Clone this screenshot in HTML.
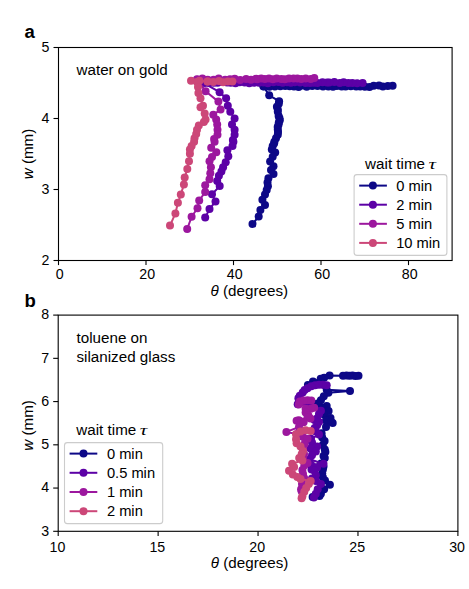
<!DOCTYPE html>
<html><head><meta charset="utf-8"><title>chart</title>
<style>
html,body{margin:0;padding:0;background:#fff;}
svg{display:block;}
text{font-family:"Liberation Sans",sans-serif;font-size:15.2px;fill:#000;}
</style></head><body>
<svg width="469" height="589" viewBox="0 0 469 589">
<rect width="469" height="589" fill="#fff"/>

<g>
<path d="M392.6,85.8 L387.8,86.0 L382.9,86.4 L379.0,85.4 L373.7,85.8 L369.5,87.0 L364.9,86.7 L360.2,86.4 L356.2,86.4 L350.8,86.2 L345.6,86.5 L341.7,86.6 L336.9,85.9 L333.0,86.8 L328.4,86.6 L323.0,86.5 L317.5,86.0 L312.2,86.1 L306.7,86.8 L302.8,85.6 L298.6,86.9 L294.0,86.4 L289.7,86.2 L285.2,86.0 L280.3,86.3 L274.9,86.5 L269.4,86.8 L263.8,86.5 L263.3,86.2 L269.2,95.3 L279.1,101.2 L278.8,103.8 L276.9,106.7 L277.8,109.5 L277.8,111.8 L278.6,116.0 L279.5,118.2 L279.8,120.3 L278.8,122.4 L278.6,124.6 L277.7,126.9 L277.8,129.7 L278.0,132.1 L277.8,134.8 L276.0,138.3 L274.4,141.7 L274.1,143.6 L272.7,146.0 L271.8,149.4 L275.2,152.6 L272.7,156.8 L270.1,161.6 L273.5,166.2 L271.0,170.1 L273.5,173.9 L268.4,178.2 L267.5,182.4 L267.9,186.2 L266.7,190.1 L265.0,194.4 L262.4,199.8 L265.0,204.9 L260.4,210.1 L258.7,216.6 L252.5,223.9" fill="none" stroke="#0d0887" stroke-width="2.0" stroke-linejoin="round"/><g fill="#0d0887"><circle cx="392.6" cy="85.8" r="4.0"/><circle cx="387.8" cy="86.0" r="4.0"/><circle cx="382.9" cy="86.4" r="4.0"/><circle cx="379.0" cy="85.4" r="4.0"/><circle cx="373.7" cy="85.8" r="4.0"/><circle cx="369.5" cy="87.0" r="4.0"/><circle cx="364.9" cy="86.7" r="4.0"/><circle cx="360.2" cy="86.4" r="4.0"/><circle cx="356.2" cy="86.4" r="4.0"/><circle cx="350.8" cy="86.2" r="4.0"/><circle cx="345.6" cy="86.5" r="4.0"/><circle cx="341.7" cy="86.6" r="4.0"/><circle cx="336.9" cy="85.9" r="4.0"/><circle cx="333.0" cy="86.8" r="4.0"/><circle cx="328.4" cy="86.6" r="4.0"/><circle cx="323.0" cy="86.5" r="4.0"/><circle cx="317.5" cy="86.0" r="4.0"/><circle cx="312.2" cy="86.1" r="4.0"/><circle cx="306.7" cy="86.8" r="4.0"/><circle cx="302.8" cy="85.6" r="4.0"/><circle cx="298.6" cy="86.9" r="4.0"/><circle cx="294.0" cy="86.4" r="4.0"/><circle cx="289.7" cy="86.2" r="4.0"/><circle cx="285.2" cy="86.0" r="4.0"/><circle cx="280.3" cy="86.3" r="4.0"/><circle cx="274.9" cy="86.5" r="4.0"/><circle cx="269.4" cy="86.8" r="4.0"/><circle cx="263.8" cy="86.5" r="4.0"/><circle cx="263.3" cy="86.2" r="4.0"/><circle cx="269.2" cy="95.3" r="4.0"/><circle cx="279.1" cy="101.2" r="4.0"/><circle cx="278.8" cy="103.8" r="4.0"/><circle cx="276.9" cy="106.7" r="4.0"/><circle cx="277.8" cy="109.5" r="4.0"/><circle cx="277.8" cy="111.8" r="4.0"/><circle cx="278.6" cy="116.0" r="4.0"/><circle cx="279.5" cy="118.2" r="4.0"/><circle cx="279.8" cy="120.3" r="4.0"/><circle cx="278.8" cy="122.4" r="4.0"/><circle cx="278.6" cy="124.6" r="4.0"/><circle cx="277.7" cy="126.9" r="4.0"/><circle cx="277.8" cy="129.7" r="4.0"/><circle cx="278.0" cy="132.1" r="4.0"/><circle cx="277.8" cy="134.8" r="4.0"/><circle cx="276.0" cy="138.3" r="4.0"/><circle cx="274.4" cy="141.7" r="4.0"/><circle cx="274.1" cy="143.6" r="4.0"/><circle cx="272.7" cy="146.0" r="4.0"/><circle cx="271.8" cy="149.4" r="4.0"/><circle cx="275.2" cy="152.6" r="4.0"/><circle cx="272.7" cy="156.8" r="4.0"/><circle cx="270.1" cy="161.6" r="4.0"/><circle cx="273.5" cy="166.2" r="4.0"/><circle cx="271.0" cy="170.1" r="4.0"/><circle cx="273.5" cy="173.9" r="4.0"/><circle cx="268.4" cy="178.2" r="4.0"/><circle cx="267.5" cy="182.4" r="4.0"/><circle cx="267.9" cy="186.2" r="4.0"/><circle cx="266.7" cy="190.1" r="4.0"/><circle cx="265.0" cy="194.4" r="4.0"/><circle cx="262.4" cy="199.8" r="4.0"/><circle cx="265.0" cy="204.9" r="4.0"/><circle cx="260.4" cy="210.1" r="4.0"/><circle cx="258.7" cy="216.6" r="4.0"/><circle cx="252.5" cy="223.9" r="4.0"/></g>
<path d="M362.6,83.1 L357.1,83.2 L352.4,82.9 L348.3,83.1 L343.6,82.3 L339.8,83.1 L334.3,82.0 L329.2,82.5 L327.0,82.6 L322.5,82.3 L317.4,83.1 L313.6,82.8 L309.9,82.9 L305.6,83.1 L300.1,82.6 L294.6,82.3 L290.8,82.7 L287.0,82.2 L282.6,82.8 L278.6,82.0 L273.4,82.3 L267.9,83.2 L263.5,82.5 L258.9,82.8 L254.1,82.7 L249.3,83.2 L244.7,82.5 L239.7,82.2 L235.5,83.3 L230.8,82.7 L227.1,82.5 L222.4,81.9 L217.6,82.8 L213.8,82.8 L209.2,82.9 L204.9,82.9 L203.0,82.6 L219.6,92.2 L226.1,98.2 L227.8,105.8 L230.3,111.8 L234.6,118.6 L232.0,124.6 L234.6,129.7 L234.6,134.8 L232.9,140.0 L233.4,141.7 L232.5,146.0 L227.4,150.2 L228.3,156.2 L225.7,162.2 L223.1,167.3 L221.4,171.6 L218.9,175.8 L217.2,181.0 L219.7,186.1 L212.0,194.3 L215.5,201.4 L209.5,209.1 L205.2,217.6" fill="none" stroke="#5c01a6" stroke-width="2.0" stroke-linejoin="round"/><g fill="#5c01a6"><circle cx="362.6" cy="83.1" r="4.0"/><circle cx="357.1" cy="83.2" r="4.0"/><circle cx="352.4" cy="82.9" r="4.0"/><circle cx="348.3" cy="83.1" r="4.0"/><circle cx="343.6" cy="82.3" r="4.0"/><circle cx="339.8" cy="83.1" r="4.0"/><circle cx="334.3" cy="82.0" r="4.0"/><circle cx="329.2" cy="82.5" r="4.0"/><circle cx="327.0" cy="82.6" r="4.0"/><circle cx="322.5" cy="82.3" r="4.0"/><circle cx="317.4" cy="83.1" r="4.0"/><circle cx="313.6" cy="82.8" r="4.0"/><circle cx="309.9" cy="82.9" r="4.0"/><circle cx="305.6" cy="83.1" r="4.0"/><circle cx="300.1" cy="82.6" r="4.0"/><circle cx="294.6" cy="82.3" r="4.0"/><circle cx="290.8" cy="82.7" r="4.0"/><circle cx="287.0" cy="82.2" r="4.0"/><circle cx="282.6" cy="82.8" r="4.0"/><circle cx="278.6" cy="82.0" r="4.0"/><circle cx="273.4" cy="82.3" r="4.0"/><circle cx="267.9" cy="83.2" r="4.0"/><circle cx="263.5" cy="82.5" r="4.0"/><circle cx="258.9" cy="82.8" r="4.0"/><circle cx="254.1" cy="82.7" r="4.0"/><circle cx="249.3" cy="83.2" r="4.0"/><circle cx="244.7" cy="82.5" r="4.0"/><circle cx="239.7" cy="82.2" r="4.0"/><circle cx="235.5" cy="83.3" r="4.0"/><circle cx="230.8" cy="82.7" r="4.0"/><circle cx="227.1" cy="82.5" r="4.0"/><circle cx="222.4" cy="81.9" r="4.0"/><circle cx="217.6" cy="82.8" r="4.0"/><circle cx="213.8" cy="82.8" r="4.0"/><circle cx="209.2" cy="82.9" r="4.0"/><circle cx="204.9" cy="82.9" r="4.0"/><circle cx="203.0" cy="82.6" r="4.0"/><circle cx="219.6" cy="92.2" r="4.0"/><circle cx="226.1" cy="98.2" r="4.0"/><circle cx="227.8" cy="105.8" r="4.0"/><circle cx="230.3" cy="111.8" r="4.0"/><circle cx="234.6" cy="118.6" r="4.0"/><circle cx="232.0" cy="124.6" r="4.0"/><circle cx="234.6" cy="129.7" r="4.0"/><circle cx="234.6" cy="134.8" r="4.0"/><circle cx="232.9" cy="140.0" r="4.0"/><circle cx="233.4" cy="141.7" r="4.0"/><circle cx="232.5" cy="146.0" r="4.0"/><circle cx="227.4" cy="150.2" r="4.0"/><circle cx="228.3" cy="156.2" r="4.0"/><circle cx="225.7" cy="162.2" r="4.0"/><circle cx="223.1" cy="167.3" r="4.0"/><circle cx="221.4" cy="171.6" r="4.0"/><circle cx="218.9" cy="175.8" r="4.0"/><circle cx="217.2" cy="181.0" r="4.0"/><circle cx="219.7" cy="186.1" r="4.0"/><circle cx="212.0" cy="194.3" r="4.0"/><circle cx="215.5" cy="201.4" r="4.0"/><circle cx="209.5" cy="209.1" r="4.0"/><circle cx="205.2" cy="217.6" r="4.0"/></g>
<path d="M314.3,78.1 L310.8,79.0 L305.7,78.5 L301.4,78.9 L297.4,78.6 L293.5,78.6 L289.0,78.5 L284.9,79.2 L281.4,78.9 L276.7,78.5 L272.9,79.2 L269.0,78.4 L264.9,79.1 L261.2,78.6 L257.2,79.3 L256.0,78.8 L251.0,79.8 L246.1,78.9 L240.2,79.9 L234.7,78.7 L230.0,79.3 L225.1,79.8 L218.7,78.6 L213.6,79.8 L207.7,79.8 L202.4,78.5 L197.3,79.7 L197.0,79.2 L205.6,91.3 L218.4,101.6 L220.6,109.6 L213.3,114.7 L216.2,119.5 L217.2,124.6 L217.5,129.7 L217.5,134.8 L214.1,139.1 L214.6,141.7 L211.2,147.7 L216.3,152.3 L212.0,157.1 L209.5,161.3 L210.9,167.3 L210.3,173.3 L209.5,179.2 L205.2,185.2 L205.2,192.0 L199.2,200.6 L197.5,208.3 L191.6,216.8 L187.2,229.0" fill="none" stroke="#9c179e" stroke-width="2.0" stroke-linejoin="round"/><g fill="#9c179e"><circle cx="314.3" cy="78.1" r="4.0"/><circle cx="310.8" cy="79.0" r="4.0"/><circle cx="305.7" cy="78.5" r="4.0"/><circle cx="301.4" cy="78.9" r="4.0"/><circle cx="297.4" cy="78.6" r="4.0"/><circle cx="293.5" cy="78.6" r="4.0"/><circle cx="289.0" cy="78.5" r="4.0"/><circle cx="284.9" cy="79.2" r="4.0"/><circle cx="281.4" cy="78.9" r="4.0"/><circle cx="276.7" cy="78.5" r="4.0"/><circle cx="272.9" cy="79.2" r="4.0"/><circle cx="269.0" cy="78.4" r="4.0"/><circle cx="264.9" cy="79.1" r="4.0"/><circle cx="261.2" cy="78.6" r="4.0"/><circle cx="257.2" cy="79.3" r="4.0"/><circle cx="256.0" cy="78.8" r="4.0"/><circle cx="251.0" cy="79.8" r="4.0"/><circle cx="246.1" cy="78.9" r="4.0"/><circle cx="240.2" cy="79.9" r="4.0"/><circle cx="234.7" cy="78.7" r="4.0"/><circle cx="230.0" cy="79.3" r="4.0"/><circle cx="225.1" cy="79.8" r="4.0"/><circle cx="218.7" cy="78.6" r="4.0"/><circle cx="213.6" cy="79.8" r="4.0"/><circle cx="207.7" cy="79.8" r="4.0"/><circle cx="202.4" cy="78.5" r="4.0"/><circle cx="197.3" cy="79.7" r="4.0"/><circle cx="197.0" cy="79.2" r="4.0"/><circle cx="205.6" cy="91.3" r="4.0"/><circle cx="218.4" cy="101.6" r="4.0"/><circle cx="220.6" cy="109.6" r="4.0"/><circle cx="213.3" cy="114.7" r="4.0"/><circle cx="216.2" cy="119.5" r="4.0"/><circle cx="217.2" cy="124.6" r="4.0"/><circle cx="217.5" cy="129.7" r="4.0"/><circle cx="217.5" cy="134.8" r="4.0"/><circle cx="214.1" cy="139.1" r="4.0"/><circle cx="214.6" cy="141.7" r="4.0"/><circle cx="211.2" cy="147.7" r="4.0"/><circle cx="216.3" cy="152.3" r="4.0"/><circle cx="212.0" cy="157.1" r="4.0"/><circle cx="209.5" cy="161.3" r="4.0"/><circle cx="210.9" cy="167.3" r="4.0"/><circle cx="210.3" cy="173.3" r="4.0"/><circle cx="209.5" cy="179.2" r="4.0"/><circle cx="205.2" cy="185.2" r="4.0"/><circle cx="205.2" cy="192.0" r="4.0"/><circle cx="199.2" cy="200.6" r="4.0"/><circle cx="197.5" cy="208.3" r="4.0"/><circle cx="191.6" cy="216.8" r="4.0"/><circle cx="187.2" cy="229.0" r="4.0"/></g>
<path d="M232.4,81.4 L227.8,81.5 L223.1,82.2 L219.0,80.9 L213.3,82.1 L207.6,81.5 L207.5,81.6 L199.5,80.8 L191.0,80.8 L197.0,82.0 L198.0,87.0 L198.4,93.0 L200.5,98.2 L203.0,105.8 L200.5,107.2 L204.7,113.5 L205.6,119.5 L203.9,122.0 L198.8,125.5 L197.0,129.7 L196.2,134.0 L194.5,138.3 L194.1,141.7 L191.6,146.0 L189.9,149.4 L189.9,153.7 L189.0,161.3 L187.3,169.0 L184.7,177.5 L183.9,184.4 L180.8,194.6 L177.9,202.8 L175.4,213.4 L170.0,225.6" fill="none" stroke="#cc4778" stroke-width="2.0" stroke-linejoin="round"/><g fill="#cc4778"><circle cx="232.4" cy="81.4" r="4.0"/><circle cx="227.8" cy="81.5" r="4.0"/><circle cx="223.1" cy="82.2" r="4.0"/><circle cx="219.0" cy="80.9" r="4.0"/><circle cx="213.3" cy="82.1" r="4.0"/><circle cx="207.6" cy="81.5" r="4.0"/><circle cx="207.5" cy="81.6" r="4.0"/><circle cx="199.5" cy="80.8" r="4.0"/><circle cx="191.0" cy="80.8" r="4.0"/><circle cx="197.0" cy="82.0" r="4.0"/><circle cx="198.0" cy="87.0" r="4.0"/><circle cx="198.4" cy="93.0" r="4.0"/><circle cx="200.5" cy="98.2" r="4.0"/><circle cx="203.0" cy="105.8" r="4.0"/><circle cx="200.5" cy="107.2" r="4.0"/><circle cx="204.7" cy="113.5" r="4.0"/><circle cx="205.6" cy="119.5" r="4.0"/><circle cx="203.9" cy="122.0" r="4.0"/><circle cx="198.8" cy="125.5" r="4.0"/><circle cx="197.0" cy="129.7" r="4.0"/><circle cx="196.2" cy="134.0" r="4.0"/><circle cx="194.5" cy="138.3" r="4.0"/><circle cx="194.1" cy="141.7" r="4.0"/><circle cx="191.6" cy="146.0" r="4.0"/><circle cx="189.9" cy="149.4" r="4.0"/><circle cx="189.9" cy="153.7" r="4.0"/><circle cx="189.0" cy="161.3" r="4.0"/><circle cx="187.3" cy="169.0" r="4.0"/><circle cx="184.7" cy="177.5" r="4.0"/><circle cx="183.9" cy="184.4" r="4.0"/><circle cx="180.8" cy="194.6" r="4.0"/><circle cx="177.9" cy="202.8" r="4.0"/><circle cx="175.4" cy="213.4" r="4.0"/><circle cx="170.0" cy="225.6" r="4.0"/></g>
</g>
<rect x="58.5" y="47.5" width="393.6" height="213.0" fill="none" stroke="#000" stroke-width="1.1"/><line x1="58.5" y1="260.5" x2="58.5" y2="265.1" stroke="#000" stroke-width="1.1"/><text transform="translate(59.7,278.8) scale(1,1.07)" text-anchor="middle" style="font-size:14.2px;">0</text><line x1="146.0" y1="260.5" x2="146.0" y2="265.1" stroke="#000" stroke-width="1.1"/><text transform="translate(147.2,278.8) scale(1,1.07)" text-anchor="middle" style="font-size:14.2px;">20</text><line x1="233.5" y1="260.5" x2="233.5" y2="265.1" stroke="#000" stroke-width="1.1"/><text transform="translate(234.7,278.8) scale(1,1.07)" text-anchor="middle" style="font-size:14.2px;">40</text><line x1="321.0" y1="260.5" x2="321.0" y2="265.1" stroke="#000" stroke-width="1.1"/><text transform="translate(322.2,278.8) scale(1,1.07)" text-anchor="middle" style="font-size:14.2px;">60</text><line x1="408.5" y1="260.5" x2="408.5" y2="265.1" stroke="#000" stroke-width="1.1"/><text transform="translate(409.7,278.8) scale(1,1.07)" text-anchor="middle" style="font-size:14.2px;">80</text><line x1="53.5" y1="260.5" x2="58.5" y2="260.5" stroke="#000" stroke-width="1.1"/><text transform="translate(49.5,264.8) scale(1,1.07)" text-anchor="end" style="font-size:14.2px;">2</text><line x1="53.5" y1="189.5" x2="58.5" y2="189.5" stroke="#000" stroke-width="1.1"/><text transform="translate(49.5,193.8) scale(1,1.07)" text-anchor="end" style="font-size:14.2px;">3</text><line x1="53.5" y1="118.5" x2="58.5" y2="118.5" stroke="#000" stroke-width="1.1"/><text transform="translate(49.5,122.8) scale(1,1.07)" text-anchor="end" style="font-size:14.2px;">4</text><line x1="53.5" y1="47.5" x2="58.5" y2="47.5" stroke="#000" stroke-width="1.1"/><text transform="translate(49.5,51.8) scale(1,1.07)" text-anchor="end" style="font-size:14.2px;">5</text>
<text transform="translate(76.5,74.9) scale(1,1.02)" text-anchor="start" style="">water on gold</text>
<rect x="354.1" y="174.6" width="92.79999999999995" height="80.80000000000001" rx="2.8" fill="#fff" fill-opacity="0.8" stroke="#ccc" stroke-width="1.1"/><text transform="translate(365.1,168.5) scale(1,1.02)" text-anchor="start" style="">wait time</text><text transform="translate(428.5,168.5) scale(1.35,1)" style="font-family:'Liberation Serif',serif;font-style:italic;font-size:15.5px">τ</text><line x1="360.2" y1="185.6" x2="385.9" y2="185.6" stroke="#0d0887" stroke-width="2.0" stroke-linecap="square"/><circle cx="372.9" cy="185.6" r="4.0" fill="#0d0887"/><text transform="translate(396.2,190.6) scale(1,1.02)" text-anchor="start" style="font-size:14.7px;">0 min</text><line x1="360.2" y1="204.7" x2="385.9" y2="204.7" stroke="#5c01a6" stroke-width="2.0" stroke-linecap="square"/><circle cx="372.9" cy="204.7" r="4.0" fill="#5c01a6"/><text transform="translate(396.2,209.7) scale(1,1.02)" text-anchor="start" style="font-size:14.7px;">2 min</text><line x1="360.2" y1="223.8" x2="385.9" y2="223.8" stroke="#9c179e" stroke-width="2.0" stroke-linecap="square"/><circle cx="372.9" cy="223.8" r="4.0" fill="#9c179e"/><text transform="translate(396.2,228.8) scale(1,1.02)" text-anchor="start" style="font-size:14.7px;">5 min</text><line x1="360.2" y1="242.9" x2="385.9" y2="242.9" stroke="#cc4778" stroke-width="2.0" stroke-linecap="square"/><circle cx="372.9" cy="242.9" r="4.0" fill="#cc4778"/><text transform="translate(396.2,247.9) scale(1,1.02)" text-anchor="start" style="font-size:14.7px;">10 min</text>
<text transform="translate(210.6,296) scale(1,1.02)" text-anchor="start" style=""><tspan font-style="italic">θ</tspan> (degrees)</text>
<text transform="translate(32.7,179.3) rotate(-90) scale(1,1.02)" text-anchor="start" style=""><tspan font-style="italic">w</tspan> (mm)</text>
<text transform="translate(24.5,38.3) scale(1,1.02)" text-anchor="start" style="font-size:18.5px;font-weight:bold;">a</text>
<g>
<path d="M358.5,375.8 L355.5,375.9 L352.5,375.6 L349.5,375.8 L346.5,375.6 L343.0,375.7 L329.6,375.6 L324.1,377.8 L320.7,378.7 L313.0,381.5 L307.9,385.1 L316.0,384.0 L326.7,389.7 L350.0,391.0 L328.4,392.8 L323.8,396.3 L320.9,400.2 L317.6,403.5 L326.7,406.0 L322.0,408.5 L328.6,411.0 L324.0,414.5 L330.5,417.9 L326.0,420.5 L332.7,423.0 L331.2,422.0 L326.0,427.1 L321.6,433.3 L322.2,437.4 L324.6,441.0 L322.8,445.1 L324.8,449.5 L325.4,452.1 L323.5,455.9 L324.8,457.9 L321.2,463.5 L323.5,466.5 L322.9,469.5 L322.2,473.2 L322.8,477.1 L325.0,480.5 L329.9,484.8 L324.1,489.2 L320.9,493.7 L319.5,495.9 L312.6,496.9" fill="none" stroke="#0d0887" stroke-width="2.0" stroke-linejoin="round"/><g fill="#0d0887"><circle cx="358.5" cy="375.8" r="4.0"/><circle cx="355.5" cy="375.9" r="4.0"/><circle cx="352.5" cy="375.6" r="4.0"/><circle cx="349.5" cy="375.8" r="4.0"/><circle cx="346.5" cy="375.6" r="4.0"/><circle cx="343.0" cy="375.7" r="4.0"/><circle cx="329.6" cy="375.6" r="4.0"/><circle cx="324.1" cy="377.8" r="4.0"/><circle cx="320.7" cy="378.7" r="4.0"/><circle cx="313.0" cy="381.5" r="4.0"/><circle cx="307.9" cy="385.1" r="4.0"/><circle cx="316.0" cy="384.0" r="4.0"/><circle cx="326.7" cy="389.7" r="4.0"/><circle cx="350.0" cy="391.0" r="4.0"/><circle cx="328.4" cy="392.8" r="4.0"/><circle cx="323.8" cy="396.3" r="4.0"/><circle cx="320.9" cy="400.2" r="4.0"/><circle cx="317.6" cy="403.5" r="4.0"/><circle cx="326.7" cy="406.0" r="4.0"/><circle cx="322.0" cy="408.5" r="4.0"/><circle cx="328.6" cy="411.0" r="4.0"/><circle cx="324.0" cy="414.5" r="4.0"/><circle cx="330.5" cy="417.9" r="4.0"/><circle cx="326.0" cy="420.5" r="4.0"/><circle cx="332.7" cy="423.0" r="4.0"/><circle cx="331.2" cy="422.0" r="4.0"/><circle cx="326.0" cy="427.1" r="4.0"/><circle cx="321.6" cy="433.3" r="4.0"/><circle cx="322.2" cy="437.4" r="4.0"/><circle cx="324.6" cy="441.0" r="4.0"/><circle cx="322.8" cy="445.1" r="4.0"/><circle cx="324.8" cy="449.5" r="4.0"/><circle cx="325.4" cy="452.1" r="4.0"/><circle cx="323.5" cy="455.9" r="4.0"/><circle cx="324.8" cy="457.9" r="4.0"/><circle cx="321.2" cy="463.5" r="4.0"/><circle cx="323.5" cy="466.5" r="4.0"/><circle cx="322.9" cy="469.5" r="4.0"/><circle cx="322.2" cy="473.2" r="4.0"/><circle cx="322.8" cy="477.1" r="4.0"/><circle cx="325.0" cy="480.5" r="4.0"/><circle cx="329.9" cy="484.8" r="4.0"/><circle cx="324.1" cy="489.2" r="4.0"/><circle cx="320.9" cy="493.7" r="4.0"/><circle cx="319.5" cy="495.9" r="4.0"/><circle cx="312.6" cy="496.9" r="4.0"/></g>
<path d="M326.7,385.3 L322.8,384.8 L319.0,384.8 L315.1,385.3 L311.3,386.2 L307.5,388.2 L304.6,390.0 L302.7,392.5 L299.8,395.8 L298.4,398.2 L297.7,404.2 L310.0,405.0 L320.9,410.7 L319.0,414.0 L317.0,418.4 L314.5,420.1 L319.0,422.0 L317.1,425.2 L314.7,428.0 L315.8,431.6 L319.0,434.5 L311.0,438.8 L312.0,442.6 L317.1,446.4 L310.5,448.5 L315.8,451.5 L312.0,455.3 L309.4,459.2 L323.5,463.7 L311.0,464.5 L317.1,467.5 L311.5,469.5 L314.5,470.7 L315.8,475.2 L312.0,478.4 L316.0,481.0 L320.9,484.1 L317.7,489.2 L315.8,493.7 L313.9,497.5" fill="none" stroke="#5c01a6" stroke-width="2.0" stroke-linejoin="round"/><g fill="#5c01a6"><circle cx="326.7" cy="385.3" r="4.0"/><circle cx="322.8" cy="384.8" r="4.0"/><circle cx="319.0" cy="384.8" r="4.0"/><circle cx="315.1" cy="385.3" r="4.0"/><circle cx="311.3" cy="386.2" r="4.0"/><circle cx="307.5" cy="388.2" r="4.0"/><circle cx="304.6" cy="390.0" r="4.0"/><circle cx="302.7" cy="392.5" r="4.0"/><circle cx="299.8" cy="395.8" r="4.0"/><circle cx="298.4" cy="398.2" r="4.0"/><circle cx="297.7" cy="404.2" r="4.0"/><circle cx="310.0" cy="405.0" r="4.0"/><circle cx="320.9" cy="410.7" r="4.0"/><circle cx="319.0" cy="414.0" r="4.0"/><circle cx="317.0" cy="418.4" r="4.0"/><circle cx="314.5" cy="420.1" r="4.0"/><circle cx="319.0" cy="422.0" r="4.0"/><circle cx="317.1" cy="425.2" r="4.0"/><circle cx="314.7" cy="428.0" r="4.0"/><circle cx="315.8" cy="431.6" r="4.0"/><circle cx="319.0" cy="434.5" r="4.0"/><circle cx="311.0" cy="438.8" r="4.0"/><circle cx="312.0" cy="442.6" r="4.0"/><circle cx="317.1" cy="446.4" r="4.0"/><circle cx="310.5" cy="448.5" r="4.0"/><circle cx="315.8" cy="451.5" r="4.0"/><circle cx="312.0" cy="455.3" r="4.0"/><circle cx="309.4" cy="459.2" r="4.0"/><circle cx="323.5" cy="463.7" r="4.0"/><circle cx="311.0" cy="464.5" r="4.0"/><circle cx="317.1" cy="467.5" r="4.0"/><circle cx="311.5" cy="469.5" r="4.0"/><circle cx="314.5" cy="470.7" r="4.0"/><circle cx="315.8" cy="475.2" r="4.0"/><circle cx="312.0" cy="478.4" r="4.0"/><circle cx="316.0" cy="481.0" r="4.0"/><circle cx="320.9" cy="484.1" r="4.0"/><circle cx="317.7" cy="489.2" r="4.0"/><circle cx="315.8" cy="493.7" r="4.0"/><circle cx="313.9" cy="497.5" r="4.0"/></g>
<path d="M311.3,400.6 L307.5,400.2 L303.6,400.6 L299.8,401.6 L298.8,404.5 L314.2,407.8 L310.8,408.8 L305.6,408.8 L305.6,412.6 L308.4,415.5 L310.4,418.4 L307.5,417.6 L298.8,420.3 L296.6,420.8 L301.1,421.4 L303.6,422.2 L299.0,427.0 L286.4,431.9 L297.0,434.0 L303.0,437.0 L307.5,438.7 L304.5,444.0 L303.0,449.0 L304.0,454.0 L303.0,458.0 L307.5,463.0 L304.3,465.6 L302.4,470.0 L303.0,473.9 L304.1,478.0 L302.0,484.0 L301.1,489.2 L301.6,491.3" fill="none" stroke="#9c179e" stroke-width="2.0" stroke-linejoin="round"/><g fill="#9c179e"><circle cx="311.3" cy="400.6" r="4.0"/><circle cx="307.5" cy="400.2" r="4.0"/><circle cx="303.6" cy="400.6" r="4.0"/><circle cx="299.8" cy="401.6" r="4.0"/><circle cx="298.8" cy="404.5" r="4.0"/><circle cx="314.2" cy="407.8" r="4.0"/><circle cx="310.8" cy="408.8" r="4.0"/><circle cx="305.6" cy="408.8" r="4.0"/><circle cx="305.6" cy="412.6" r="4.0"/><circle cx="308.4" cy="415.5" r="4.0"/><circle cx="310.4" cy="418.4" r="4.0"/><circle cx="307.5" cy="417.6" r="4.0"/><circle cx="298.8" cy="420.3" r="4.0"/><circle cx="296.6" cy="420.8" r="4.0"/><circle cx="301.1" cy="421.4" r="4.0"/><circle cx="303.6" cy="422.2" r="4.0"/><circle cx="299.0" cy="427.0" r="4.0"/><circle cx="286.4" cy="431.9" r="4.0"/><circle cx="297.0" cy="434.0" r="4.0"/><circle cx="303.0" cy="437.0" r="4.0"/><circle cx="307.5" cy="438.7" r="4.0"/><circle cx="304.5" cy="444.0" r="4.0"/><circle cx="303.0" cy="449.0" r="4.0"/><circle cx="304.0" cy="454.0" r="4.0"/><circle cx="303.0" cy="458.0" r="4.0"/><circle cx="307.5" cy="463.0" r="4.0"/><circle cx="304.3" cy="465.6" r="4.0"/><circle cx="302.4" cy="470.0" r="4.0"/><circle cx="303.0" cy="473.9" r="4.0"/><circle cx="304.1" cy="478.0" r="4.0"/><circle cx="302.0" cy="484.0" r="4.0"/><circle cx="301.1" cy="489.2" r="4.0"/><circle cx="301.6" cy="491.3" r="4.0"/></g>
<path d="M310.7,431.0 L305.6,430.3 L300.5,431.6 L296.0,434.2 L296.0,439.3 L296.6,443.2 L300.5,446.4 L303.0,450.9 L301.7,454.1 L299.2,457.9 L302.4,460.5 L292.1,463.7 L294.1,466.9 L289.0,470.7 L292.8,474.5 L297.3,477.1 L300.5,479.0 L310.7,480.9 L308.8,484.1 L306.2,488.0 L304.3,491.8 L302.4,496.3 L301.6,498.2" fill="none" stroke="#cc4778" stroke-width="2.0" stroke-linejoin="round"/><g fill="#cc4778"><circle cx="310.7" cy="431.0" r="4.0"/><circle cx="305.6" cy="430.3" r="4.0"/><circle cx="300.5" cy="431.6" r="4.0"/><circle cx="296.0" cy="434.2" r="4.0"/><circle cx="296.0" cy="439.3" r="4.0"/><circle cx="296.6" cy="443.2" r="4.0"/><circle cx="300.5" cy="446.4" r="4.0"/><circle cx="303.0" cy="450.9" r="4.0"/><circle cx="301.7" cy="454.1" r="4.0"/><circle cx="299.2" cy="457.9" r="4.0"/><circle cx="302.4" cy="460.5" r="4.0"/><circle cx="292.1" cy="463.7" r="4.0"/><circle cx="294.1" cy="466.9" r="4.0"/><circle cx="289.0" cy="470.7" r="4.0"/><circle cx="292.8" cy="474.5" r="4.0"/><circle cx="297.3" cy="477.1" r="4.0"/><circle cx="300.5" cy="479.0" r="4.0"/><circle cx="310.7" cy="480.9" r="4.0"/><circle cx="308.8" cy="484.1" r="4.0"/><circle cx="306.2" cy="488.0" r="4.0"/><circle cx="304.3" cy="491.8" r="4.0"/><circle cx="302.4" cy="496.3" r="4.0"/><circle cx="301.6" cy="498.2" r="4.0"/></g>
</g>
<rect x="58.2" y="315.1" width="399.7" height="216.19999999999993" fill="none" stroke="#000" stroke-width="1.1"/><line x1="58.2" y1="531.3" x2="58.2" y2="535.9" stroke="#000" stroke-width="1.1"/><text transform="translate(57.400000000000006,551.9) scale(1,1.07)" text-anchor="middle" style="font-size:14.2px;">10</text><line x1="158.125" y1="531.3" x2="158.125" y2="535.9" stroke="#000" stroke-width="1.1"/><text transform="translate(157.325,551.9) scale(1,1.07)" text-anchor="middle" style="font-size:14.2px;">15</text><line x1="258.05" y1="531.3" x2="258.05" y2="535.9" stroke="#000" stroke-width="1.1"/><text transform="translate(257.25,551.9) scale(1,1.07)" text-anchor="middle" style="font-size:14.2px;">20</text><line x1="357.97499999999997" y1="531.3" x2="357.97499999999997" y2="535.9" stroke="#000" stroke-width="1.1"/><text transform="translate(357.17499999999995,551.9) scale(1,1.07)" text-anchor="middle" style="font-size:14.2px;">25</text><line x1="457.9" y1="531.3" x2="457.9" y2="535.9" stroke="#000" stroke-width="1.1"/><text transform="translate(457.09999999999997,551.9) scale(1,1.07)" text-anchor="middle" style="font-size:14.2px;">30</text><line x1="53.2" y1="531.3" x2="58.2" y2="531.3" stroke="#000" stroke-width="1.1"/><text transform="translate(49.2,535.5999999999999) scale(1,1.07)" text-anchor="end" style="font-size:14.2px;">3</text><line x1="53.2" y1="488.05999999999995" x2="58.2" y2="488.05999999999995" stroke="#000" stroke-width="1.1"/><text transform="translate(49.2,492.35999999999996) scale(1,1.07)" text-anchor="end" style="font-size:14.2px;">4</text><line x1="53.2" y1="444.81999999999994" x2="58.2" y2="444.81999999999994" stroke="#000" stroke-width="1.1"/><text transform="translate(49.2,449.11999999999995) scale(1,1.07)" text-anchor="end" style="font-size:14.2px;">5</text><line x1="53.2" y1="401.5799999999999" x2="58.2" y2="401.5799999999999" stroke="#000" stroke-width="1.1"/><text transform="translate(49.2,405.87999999999994) scale(1,1.07)" text-anchor="end" style="font-size:14.2px;">6</text><line x1="53.2" y1="358.3399999999999" x2="58.2" y2="358.3399999999999" stroke="#000" stroke-width="1.1"/><text transform="translate(49.2,362.63999999999993) scale(1,1.07)" text-anchor="end" style="font-size:14.2px;">7</text><line x1="53.2" y1="315.0999999999999" x2="58.2" y2="315.0999999999999" stroke="#000" stroke-width="1.1"/><text transform="translate(49.2,319.3999999999999) scale(1,1.07)" text-anchor="end" style="font-size:14.2px;">8</text>
<text transform="translate(76.5,343.3) scale(1,1.02)" text-anchor="start" style="">toluene on</text><text transform="translate(76.5,361.8) scale(1,1.02)" text-anchor="start" style="">silanized glass</text>
<rect x="64.5" y="442.6" width="98.19999999999999" height="81.0" rx="2.8" fill="#fff" fill-opacity="0.8" stroke="#ccc" stroke-width="1.1"/><text transform="translate(76.3,434.7) scale(1,1.02)" text-anchor="start" style="">wait time</text><text transform="translate(139.7,434.7) scale(1.35,1)" style="font-family:'Liberation Serif',serif;font-style:italic;font-size:15.5px">τ</text><line x1="70.6" y1="453.6" x2="96.3" y2="453.6" stroke="#0d0887" stroke-width="2.0" stroke-linecap="square"/><circle cx="83.5" cy="453.6" r="4.0" fill="#0d0887"/><text transform="translate(106.89999999999999,458.6) scale(1,1.02)" text-anchor="start" style="font-size:14.7px;">0 min</text><line x1="70.6" y1="472.8" x2="96.3" y2="472.8" stroke="#5c01a6" stroke-width="2.0" stroke-linecap="square"/><circle cx="83.5" cy="472.8" r="4.0" fill="#5c01a6"/><text transform="translate(106.89999999999999,477.8) scale(1,1.02)" text-anchor="start" style="font-size:14.7px;">0.5 min</text><line x1="70.6" y1="492" x2="96.3" y2="492" stroke="#9c179e" stroke-width="2.0" stroke-linecap="square"/><circle cx="83.5" cy="492" r="4.0" fill="#9c179e"/><text transform="translate(106.89999999999999,497.0) scale(1,1.02)" text-anchor="start" style="font-size:14.7px;">1 min</text><line x1="70.6" y1="511.2" x2="96.3" y2="511.2" stroke="#cc4778" stroke-width="2.0" stroke-linecap="square"/><circle cx="83.5" cy="511.2" r="4.0" fill="#cc4778"/><text transform="translate(106.89999999999999,516.2) scale(1,1.02)" text-anchor="start" style="font-size:14.7px;">2 min</text>
<text transform="translate(210.8,567.6) scale(1,1.02)" text-anchor="start" style=""><tspan font-style="italic">θ</tspan> (degrees)</text>
<text transform="translate(32.7,450.7) rotate(-90) scale(1,1.02)" text-anchor="start" style=""><tspan font-style="italic">w</tspan> (mm)</text>
<text transform="translate(24.5,306.5) scale(1,1.02)" text-anchor="start" style="font-size:18.5px;font-weight:bold;">b</text>
</svg></body></html>
